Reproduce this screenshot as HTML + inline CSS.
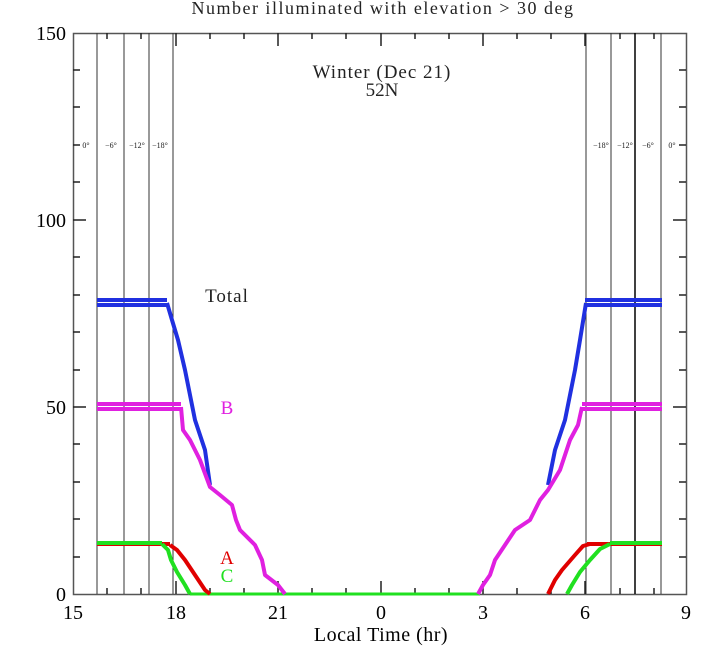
<!DOCTYPE html>
<html><head><style>body{margin:0;background:#fff}svg{display:block}</style></head><body>
<svg width="726" height="666" xmlns="http://www.w3.org/2000/svg" font-family="Liberation Serif, serif">
<text x="383" y="14" font-size="18" text-anchor="middle" fill="#222" letter-spacing="1.5">Number illuminated with elevation &gt; 30 deg</text>
<rect x="73.5" y="33.5" width="613" height="561" fill="none" stroke="#555" stroke-width="1.5"/>
<g stroke="#333" stroke-width="1">
<line x1="97" y1="33" x2="97" y2="594"/><line x1="124" y1="33" x2="124" y2="594"/><line x1="149" y1="33" x2="149" y2="594"/><line x1="173" y1="33" x2="173" y2="594"/>
<line x1="586" y1="33" x2="586" y2="594"/><line x1="611" y1="33" x2="611" y2="594"/><line x1="635" y1="33" x2="635" y2="594" stroke="#000" stroke-width="1.5"/><line x1="661" y1="33" x2="661" y2="594"/>
</g>
<g stroke="#222" stroke-width="1.5">
<path d="M73 70h7M73 107h7M73 145h7M73 182h7M73 220h13M73 257h7M73 295h7M73 332h7M73 370h7M73 407h13M73 444h7M73 482h7M73 519h7M73 557h7"/>
<path d="M686 70h-7M686 107h-7M686 145h-7M686 182h-7M686 220h-13M686 257h-7M686 295h-7M686 332h-7M686 370h-7M686 407h-13M686 444h-7M686 482h-7M686 519h-7M686 557h-7"/>
<path d="M107 33v6M141 33v6M176 33v13M210 33v6M244 33v6M278 33v13M312 33v6M346 33v6M381 33v13M415 33v6M449 33v6M483 33v13M517 33v6M551 33v6M585 33v13M620 33v6M654 33v6"/>
<path d="M107 594v-6M141 594v-6M176 594v-13M210 594v-6M244 594v-6M278 594v-13M312 594v-6M346 594v-6M381 594v-13M415 594v-6M449 594v-6M483 594v-13M517 594v-6M551 594v-6M585 594v-13M620 594v-6M654 594v-6"/>
</g>
<g font-size="20" fill="#000" text-anchor="end">
<text x="66" y="40">150</text><text x="66" y="227">100</text><text x="66" y="414">50</text><text x="66" y="601">0</text>
</g>
<g font-size="20" fill="#000" text-anchor="middle">
<text x="73" y="619">15</text><text x="176" y="619">18</text><text x="278" y="619">21</text><text x="381" y="619">0</text><text x="483" y="619">3</text><text x="585" y="619">6</text><text x="686" y="619">9</text>
<text x="381" y="641" letter-spacing="0.5">Local Time (hr)</text>
</g>
<g font-size="8" fill="#222" text-anchor="middle">
<text x="86" y="148">0°</text><text x="111" y="148">−6°</text><text x="137" y="148">−12°</text><text x="160" y="148">−18°</text>
<text x="601" y="148">−18°</text><text x="625" y="148">−12°</text><text x="648" y="148">−6°</text><text x="672" y="148">0°</text>
</g>
<g font-size="19" text-anchor="middle">
<text x="382" y="78" fill="#222" letter-spacing="1">Winter (Dec 21)</text><text x="382" y="96" fill="#222">52N</text>
<text x="227" y="302" fill="#222" letter-spacing="1">Total</text>
<text x="227" y="414" fill="#e020e0">B</text>
<text x="227" y="564" fill="#e00000">A</text>
<text x="227" y="582" fill="#20e020">C</text>
</g>
<g fill="none" stroke-linejoin="round">
<path d="M190 594H480" stroke="#20e020" stroke-width="3"/>
<path d="M97 300H167M97 305H167M585 300H662M585 305H662" stroke="#2030e0" stroke-width="4"/>
<path d="M167 303L172 320L178 340L185 370L195 420L205 450L210 485" stroke="#2030e0" stroke-width="4"/>
<path d="M548 485L555 450L565 420L575 370L580 340L586 303" stroke="#2030e0" stroke-width="4"/>
<path d="M97 404H181M97 409H181M582 404H662M582 409H662" stroke="#e020e0" stroke-width="4"/>
<path d="M181 407L183 430L190 440L200 460L210 487L220 495L232 505L236 520L240 530L255 545L262 560L265 575L278 585L285 594" stroke="#e020e0" stroke-width="4"/>
<path d="M582 407L578 425L570 440L560 470L548 490L540 500L530 520L515 530L505 545L495 560L490 575L483 585L478 594" stroke="#e020e0" stroke-width="4"/>
<path d="M97 544H170M587 544H662" stroke="#e00000" stroke-width="4"/>
<path d="M170 545L177 550L185 560L195 575L205 590L210 594M548 594L555 580L562 570L575 555L583 546L590 544" stroke="#e00000" stroke-width="4"/>
<path d="M97 543H162M610 543H662" stroke="#20e020" stroke-width="4"/>
<path d="M162 544L168 550L171 560L177 572L185 585L190 594M567 594L572 585L580 572L590 560L600 549L610 544" stroke="#20e020" stroke-width="4"/>
</g>
</svg>
</body></html>
